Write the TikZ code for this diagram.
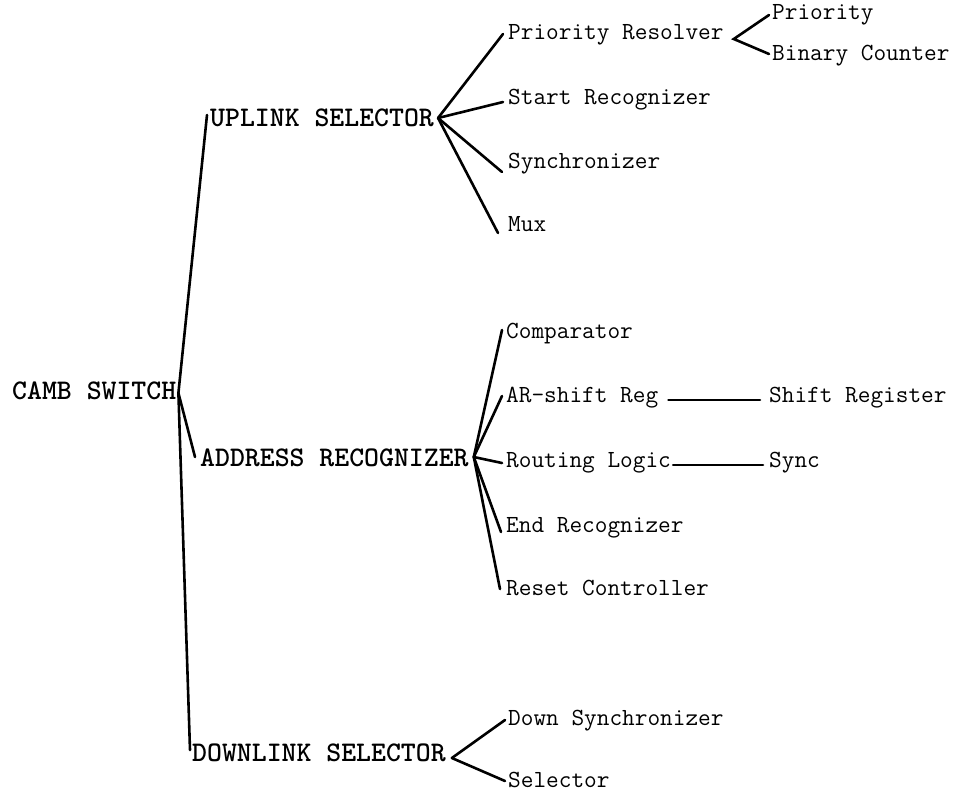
\documentclass[tikz,border=0pt]{standalone}
\usepackage{fontspec}
\begin{document}
\begin{tikzpicture}[x=1pt,y=-1pt,
  branch/.style={line width=2.6pt,line cap=round},
  head/.style={anchor=west,inner sep=0pt,text height=0.6em,text depth=0pt,
    font=\ttfamily\bfseries\fontsize{28.4}{30}\selectfont},
  part/.style={anchor=west,inner sep=0pt,text height=0.55em,text depth=0pt,
    font=\ttfamily\fontsize{24.6}{27}\selectfont}]
\useasboundingbox (0,0) rectangle (955,795);

% root and first level
\node[head] (camb) at (12,396) {CAMB SWITCH};
\node[head] (up)   at (210,123) {UPLINK SELECTOR};
\node[head] (ar)   at (200,463) {ADDRESS RECOGNIZER};
\node[head] (dn)   at (192,758) {DOWNLINK SELECTOR};

% uplink selector parts
\node[part] (pr)  at (508,37)  {Priority Resolver};
\node[part] (sr)  at (508,102) {Start Recognizer};
\node[part] (sy)  at (508,166) {Synchronizer};
\node[part] (mux) at (508,229) {Mux};
\node[part] (pri) at (772,17)  {Priority};
\node[part] (bc)  at (772,58)  {Binary Counter};

% address recognizer parts
\node[part] (cmp)  at (506,336) {Comparator};
\node[part] (asr)  at (506,400) {AR-shift Reg};
\node[part] (rl)   at (506,465) {Routing Logic};
\node[part] (er)   at (506,530) {End Recognizer};
\node[part] (rc)   at (506,593) {Reset Controller};
\node[part] (shr)  at (769,400) {Shift Register};
\node[part] (sync) at (769,465) {Sync};

% downlink selector parts
\node[part] (ds)  at (508,723) {Down Synchronizer};
\node[part] (sel) at (508,785) {Selector};

% root branches
\coordinate (cambx) at ([xshift=2pt,yshift=3pt]camb.east);
\draw[branch] ([xshift=-3pt,yshift=8pt]up.west) -- (cambx)
  -- ([xshift=-2pt,yshift=8pt]dn.west);
\draw[branch] (cambx) -- ([xshift=-5pt,yshift=6pt]ar.west);

% uplink selector branches
\coordinate (upx) at ([xshift=4pt,yshift=5pt]up.east);
\draw[branch] (upx) -- ([xshift=-5pt,yshift=3pt]pr.west);
\draw[branch] (upx) -- ([xshift=-5pt,yshift=0pt]sr.west);
\draw[branch] (upx) -- ([xshift=-6pt,yshift=-6pt]sy.west);
\draw[branch] (upx) -- ([xshift=-10pt,yshift=-4pt]mux.west);

% priority resolver branches
\coordinate (prx) at ([xshift=10pt,yshift=-2pt]pr.east);
\draw[branch] ([xshift=-3pt,yshift=2pt]pri.west) -- (prx)
  -- ([xshift=-3pt,yshift=4pt]bc.west);

% address recognizer branches
\coordinate (arx) at ([xshift=5pt,yshift=6pt]ar.east);
\draw[branch] (arx) -- ([xshift=-4pt,yshift=6pt]cmp.west);
\draw[branch] (arx) -- ([xshift=-4pt,yshift=4pt]asr.west);
\draw[branch] (arx) -- ([xshift=-4pt,yshift=2pt]rl.west);
\draw[branch] (arx) -- ([xshift=-5pt,yshift=-2pt]er.west);
\draw[branch] (arx) -- ([xshift=-6pt,yshift=4pt]rc.west);
\draw[branch] ([xshift=10pt]asr.east) -- ([xshift=-9pt]shr.west);
\draw[branch] ([xshift=2pt]rl.east) -- ([xshift=-6pt]sync.west);

% downlink selector branches
\coordinate (dnx) at ([xshift=6pt]dn.east);
\draw[branch] (dnx) -- ([xshift=-3pt,yshift=3pt]ds.west);
\draw[branch] (dnx) -- ([xshift=-3pt,yshift=4pt]sel.west);
\end{tikzpicture}
\end{document}
